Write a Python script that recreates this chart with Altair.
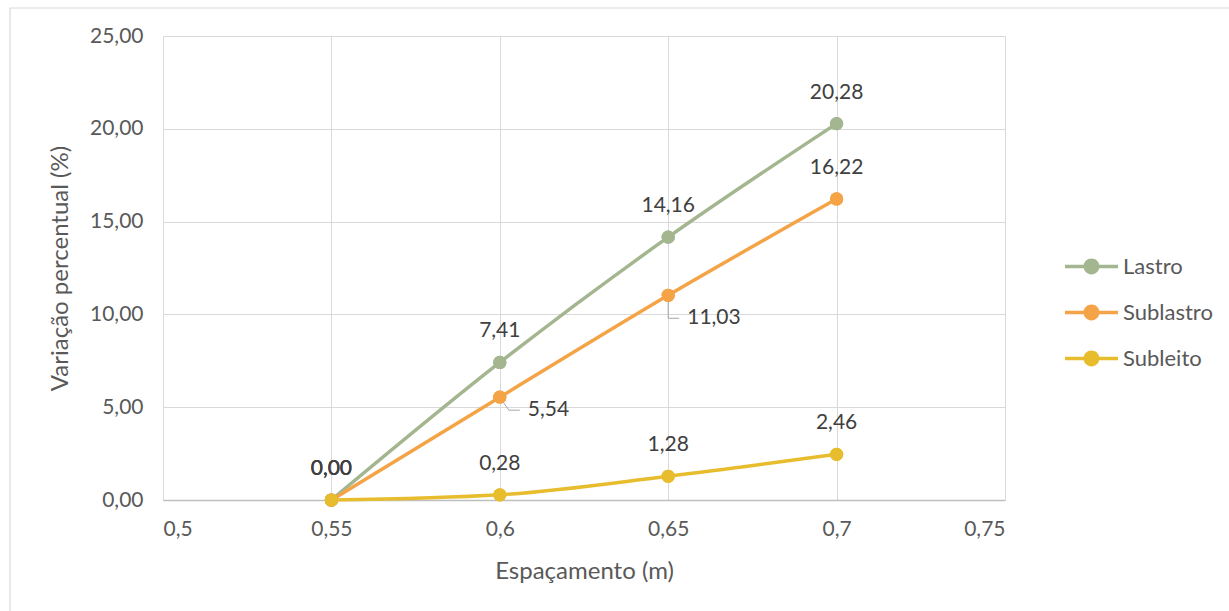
import altair as alt
import pandas as pd

# Spacing (m) and percentage variation per layer
espacamento = [0.55, 0.6, 0.65, 0.7]
lastro = [0.00, 7.41, 14.16, 20.28]
sublastro = [0.00, 5.54, 11.03, 16.22]
subleito = [0.00, 0.28, 1.28, 2.46]

series_names = ["Lastro", "Sublastro", "Subleito"]
series_colors = ["#A3B68F", "#F4A446", "#E7BD2E"]
x_ticks = [0.5, 0.55, 0.6, 0.65, 0.7, 0.75]
y_ticks = [0, 5, 10, 15, 20, 25]

rows = []
for name, vals in zip(series_names, [lastro, sublastro, subleito]):
    for i, (x, v) in enumerate(zip(espacamento, vals)):
        rows.append({"serie": name, "x": x, "y": v, "i": i,
                     "rotulo": f"{v:.2f}".replace(".", ",")})
df = pd.DataFrame(rows)

FONT = "Lato"
TXT = "#595959"
LBL = "#404040"
W, H = 842, 464
LEFT, TOP = 163, 36
FS = 21        # tick and data label size
TFS = 24       # axis title size

xscale = alt.Scale(domain=[0.5, 0.75], nice=False, zero=False)
yscale = alt.Scale(domain=[0, 25], nice=False, zero=False)
cscale = alt.Scale(domain=series_names, range=series_colors)

xenc = alt.X("x:Q", scale=xscale,
             axis=alt.Axis(values=x_ticks, title="Espaçamento (m)",
                           labelExpr="replace(format(datum.value, '.2~f'), '.', ',')",
                           grid=True, gridColor="#D9D9D9", ticks=False,
                           domain=True, domainColor="#BFBFBF", domainWidth=1.3,
                           labelPadding=18, titlePadding=20,
                           labelFontSize=FS, titleFontSize=TFS,
                           labelColor=TXT, titleColor=TXT,
                           labelFont=FONT, titleFont=FONT, titleFontWeight="normal"))
yenc = alt.Y("y:Q", scale=yscale,
             axis=alt.Axis(values=y_ticks, title="Variação percentual (%)",
                           labelExpr="replace(format(datum.value, '.2f'), '.', ',')",
                           grid=True, gridColor="#D9D9D9", ticks=False, domain=False,
                           labelPadding=20, titlePadding=17,
                           labelFontSize=FS, titleFontSize=TFS,
                           labelColor=TXT, titleColor=TXT,
                           labelFont=FONT, titleFont=FONT, titleFontWeight="normal"))
xq = alt.X("x:Q", scale=xscale)
yq = alt.Y("y:Q", scale=yscale)
x2q = alt.X2("x:Q")
y2q = alt.Y2("y:Q")

# Legend symbol: short line segment with a dot in the middle
legend_path = ("M-1,-0.066 L1,-0.066 L1,0.066 L-1,0.066 Z "
               "M0.3,0 A0.3,0.3 0 1,1 -0.3,0 A0.3,0.3 0 1,1 0.3,0 Z")
legend = alt.Legend(title=None, orient="none", legendX=902, legendY=204,
                    symbolType=legend_path, symbolSize=2809,
                    symbolStrokeWidth=0, symbolOpacity=1,
                    labelFont=FONT, labelFontSize=22, labelColor=TXT,
                    labelOffset=5, rowPadding=8)
color_leg = alt.Color("serie:N", scale=cscale, sort=series_names, legend=legend)
color = alt.Color("serie:N", scale=cscale, sort=series_names)

base = alt.Chart(df)

# Points drawn first carry the legend; they are redrawn above the lines
points_leg = base.mark_circle(size=175, opacity=1).encode(x=xenc, y=yenc, color=color_leg)

lines = base.mark_line(strokeWidth=3.5, interpolate="monotone").encode(
    x=xq, y=yq, color=color, detail="serie:N", order="x:Q",
)

points = base.mark_circle(size=175, opacity=1).encode(x=xq, y=yq, color=color)

above = base.transform_filter(
    "!(datum.serie == 'Sublastro' && (datum.i == 1 || datum.i == 2))"
).mark_text(font=FONT, fontSize=FS, color=LBL, dy=-31, baseline="middle").encode(
    x=xq, y=yq, text="rotulo:N")

lbl_554 = base.transform_filter("datum.serie == 'Sublastro' && datum.i == 1").mark_text(
    font=FONT, fontSize=FS, color=LBL, align="left", baseline="middle", dx=28, dy=13
).encode(x=xq, y=yq, text="rotulo:N")

lbl_1103 = base.transform_filter("datum.serie == 'Sublastro' && datum.i == 2").mark_text(
    font=FONT, fontSize=FS, color=LBL, align="left", baseline="middle", dx=19, dy=23
).encode(x=xq, y=yq, text="rotulo:N")

# Leader lines for the two labels that sit beside their points
lead_a1 = base.transform_filter("datum.serie == 'Sublastro' && datum.i == 1").mark_rule(
    color="#A6A6A6", strokeWidth=1, x2Offset=9, y2Offset=13
).encode(x=xq, y=yq, x2=x2q, y2=y2q)
lead_a2 = base.transform_filter("datum.serie == 'Sublastro' && datum.i == 1").mark_rule(
    color="#A6A6A6", strokeWidth=1, xOffset=9, yOffset=13, x2Offset=20, y2Offset=13
).encode(x=xq, y=yq, x2=x2q, y2=y2q)
lead_b1 = base.transform_filter("datum.serie == 'Sublastro' && datum.i == 2").mark_rule(
    color="#A6A6A6", strokeWidth=1, y2Offset=23
).encode(x=xq, y=yq, x2=x2q, y2=y2q)
lead_b2 = base.transform_filter("datum.serie == 'Sublastro' && datum.i == 2").mark_rule(
    color="#A6A6A6", strokeWidth=1, yOffset=23, x2Offset=11, y2Offset=23
).encode(x=xq, y=yq, x2=x2q, y2=y2q)

# Outer chart frame
frame = alt.Chart(pd.DataFrame({"k": [0]})).mark_rect(
    fill=None, stroke="#D9D9D9", strokeWidth=1.2
).encode(x=alt.value(10 - LEFT), y=alt.value(8 - TOP),
         x2=alt.value(1240 - LEFT), y2=alt.value(620 - TOP))

chart = alt.layer(
    points_leg, frame, lead_a1, lead_a2, lead_b1, lead_b2, lines, points,
    above, lbl_554, lbl_1103
).properties(
    width=W, height=H,
    autosize=alt.AutoSizeParams(type="none"),
    padding={"left": LEFT, "top": TOP, "right": 1229 - LEFT - W, "bottom": 611 - TOP - H},
    background="white",
).configure_view(stroke=None)

chart.save("out.html", embed_options={"renderer": "svg", "actions": False})
